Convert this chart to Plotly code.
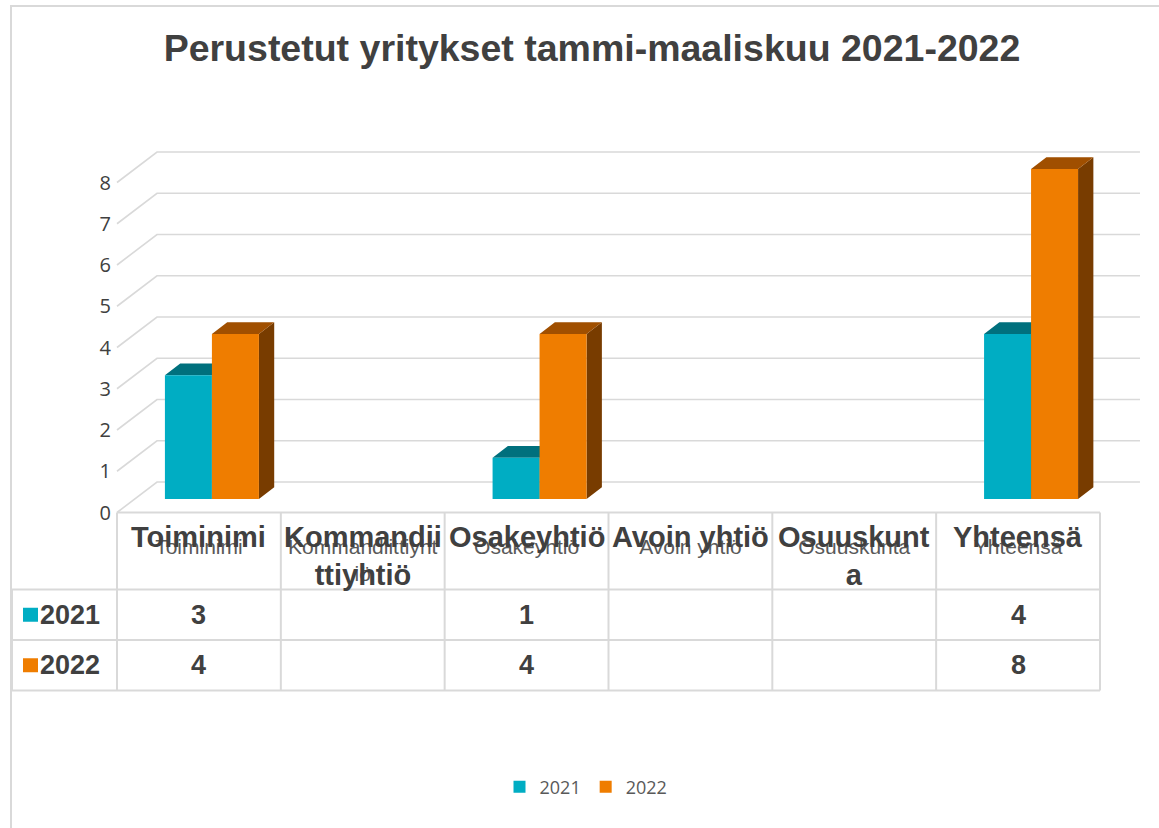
import plotly.graph_objects as go

# ---------------- data ----------------
categories = ["Toiminimi", "Kommandiittiyhtiö", "Osakeyhtiö", "Avoin yhtiö", "Osuuskunta", "Yhteensä"]
header_labels = ["Toiminimi", "Kommandii<br>ttiyhtiö", "Osakeyhtiö", "Avoin yhtiö", "Osuuskunt<br>a", "Yhteensä"]
axis_labels = ["Toiminimi", "Kommandiittiyht<br>iö", "Osakeyhtiö", "Avoin yhtiö", "Osuuskunta", "Yhteensä"]
series_names = ["2021", "2022"]
values_2021 = [3, None, 1, None, None, 4]
values_2022 = [4, None, 4, None, None, 8]
y_ticks = [0, 1, 2, 3, 4, 5, 6, 7, 8]
title_text = "Perustetut yritykset tammi-maaliskuu 2021-2022"

# ---------------- styles ----------------
front_colors = ["#00ADC3", "#EF7D00"]
top_colors = ["#00707D", "#A04F00"]
side_colors = ["#00525C", "#783C00"]
grid_color = "#D9D9D9"
text_dark = "#404040"
text_mid = "#595959"

W, H = 1159, 828
CAT_PX = 163.83       # pixels per category
UNIT_PX = 41.25       # pixels per value unit
FLOOR_LEFT_PX = 117   # left edge of front floor
ZERO_PX = 512.5       # y pixel of value 0 on the front plane


def ux(px):
    return px / CAT_PX


def uy(px):
    return px / UNIT_PX


def px2x(px):
    return -0.5 + (px - FLOOR_LEFT_PX) / CAT_PX


def px2y(py):
    return (ZERO_PX - py) / UNIT_PX


x_range = [px2x(0), px2x(W)]
y_range = [px2y(H), px2y(0)]

n = len(categories)
left_edge, right_edge = -0.5, n - 0.5
WALL_DX, WALL_DY = ux(40), uy(30.5)
BAR_W = ux(47)
BAR_SHIFT = ux(13)
BAR_BASE = uy(13.5)
DEP_X, DEP_Y = ux(15.3), uy(11.7)

fig = go.Figure()

# gridlines (side wall + back wall)
gx, gy = [], []
for v in y_ticks:
    gx += [left_edge, left_edge + WALL_DX, right_edge + WALL_DX, None]
    gy += [v, v + WALL_DY, v + WALL_DY, None]
fig.add_trace(go.Scatter(x=gx, y=gy, mode="lines", line=dict(color=grid_color, width=1.6),
                         hoverinfo="skip", showlegend=False))

# 3D faces of bars
all_values = [values_2021, values_2022]
for s, vals in enumerate(all_values):
    tx, ty, sx, sy = [], [], [], []
    for i, v in enumerate(vals):
        if v is None:
            continue
        l = i + BAR_SHIFT - BAR_W + s * BAR_W
        r = l + BAR_W
        b = BAR_BASE
        t = BAR_BASE + v
        tx += [l, l + DEP_X, r + DEP_X, r, l, None]
        ty += [t, t + DEP_Y, t + DEP_Y, t, t, None]
        sx += [r, r, r + DEP_X, r + DEP_X, r, None]
        sy += [b, t, t + DEP_Y, b + DEP_Y, b, None]
    fig.add_trace(go.Scatter(x=sx, y=sy, mode="lines", fill="toself", fillcolor=side_colors[s],
                             line=dict(width=0, color=side_colors[s]), hoverinfo="skip", showlegend=False))
    fig.add_trace(go.Scatter(x=tx, y=ty, mode="lines", fill="toself", fillcolor=top_colors[s],
                             line=dict(width=0, color=top_colors[s]), hoverinfo="skip", showlegend=False))

# front faces of bars (overlay axes so they sit above the depth faces)
for s, vals in enumerate(all_values):
    fig.add_trace(go.Bar(
        x=[i + BAR_SHIFT - BAR_W / 2 + s * BAR_W for i in range(n)],
        y=vals, base=BAR_BASE, width=BAR_W, name=series_names[s],
        marker=dict(color=front_colors[s], line=dict(width=0)),
        xaxis="x2", yaxis="y2",
    ))

# ---------------- data table ----------------
HEADER_H = uy(77)
ROW_H = uy(50.5)
table_left = px2x(12)
y_hdr_bottom = -HEADER_H
row_bottoms = [y_hdr_bottom - ROW_H, y_hdr_bottom - 2 * ROW_H]
y_bottom = row_bottoms[-1]

shapes = []
line_style = dict(color=grid_color, width=2)
shapes.append(dict(type="line", xref="x", yref="y", x0=left_edge, x1=right_edge, y0=0, y1=0, line=line_style))
for yy in [y_hdr_bottom] + row_bottoms:
    shapes.append(dict(type="line", xref="x", yref="y", x0=table_left, x1=right_edge, y0=yy, y1=yy, line=line_style))
for k in range(n + 1):
    xx = left_edge + k
    shapes.append(dict(type="line", xref="x", yref="y", x0=xx, x1=xx, y0=0, y1=y_bottom, line=line_style))
shapes.append(dict(type="line", xref="x", yref="y", x0=table_left, x1=table_left, y0=y_hdr_bottom, y1=y_bottom,
                   line=line_style))

# chart area border
shapes.append(dict(type="rect", xref="paper", yref="paper", x0=11 / W, x1=1.02, y0=-0.02, y1=1 - 6 / H,
                   line=dict(color=grid_color, width=2), fillcolor="rgba(0,0,0,0)"))

annotations = []
bold_font = dict(family="Liberation Sans, Arial, sans-serif", size=27, color=text_dark)
header_font = dict(family="Liberation Sans, Arial, sans-serif", size=29, color=text_dark)
for i, lab in enumerate(header_labels):
    annotations.append(dict(x=i, y=px2y(519), xref="x", yref="y", yanchor="top", text=f"<b>{lab}</b>",
                            showarrow=False, font=header_font))

for s, vals in enumerate(all_values):
    yc = (y_hdr_bottom - s * ROW_H) - ROW_H / 2
    for i, v in enumerate(vals):
        if v is None:
            continue
        annotations.append(dict(x=i, y=yc, xref="x", yref="y", text=f"<b>{v}</b>", showarrow=False,
                                font=bold_font))
    annotations.append(dict(x=px2x(38), y=yc, xref="x", yref="y", xanchor="left", text=f"<b>{series_names[s]}</b>",
                            showarrow=False, font=bold_font))
    shapes.append(dict(type="rect", xref="x", yref="y", x0=px2x(23), x1=px2x(38),
                       y0=yc - uy(7), y1=yc + uy(7), line=dict(width=0), fillcolor=front_colors[s]))

fig.update_layout(
    width=W, height=H,
    margin=dict(l=0, r=0, t=0, b=0),
    paper_bgcolor="white", plot_bgcolor="white",
    barmode="overlay",
    title=dict(text=f"<b>{title_text}</b>", x=592 / W, xanchor="center", y=1 - 48 / H, yanchor="middle",
               font=dict(family="Liberation Sans, Arial, sans-serif", size=37.5, color=text_dark)),
    xaxis=dict(range=x_range, domain=[0, 1], anchor="free", position=1 - 532 / H,
               tickmode="array", tickvals=list(range(n)), ticktext=axis_labels,
               tickfont=dict(family="Liberation Sans, Arial, sans-serif", size=21, color=text_mid),
               showgrid=False, zeroline=False, showline=False, ticks="", fixedrange=True),
    yaxis=dict(range=y_range, domain=[0, 1], anchor="free", position=111 / W,
               tickmode="array", tickvals=y_ticks,
               tickfont=dict(family="Open Sans, sans-serif", size=20, color=text_dark),
               showgrid=False, zeroline=False, showline=False, ticks="", fixedrange=True),
    xaxis2=dict(range=x_range, overlaying="x", anchor="y2", visible=False, fixedrange=True),
    yaxis2=dict(range=y_range, overlaying="y", anchor="x2", visible=False, fixedrange=True),
    legend=dict(orientation="h", x=586 / W, xanchor="center", y=1 - 787 / H, yanchor="middle",
                font=dict(family="Open Sans, sans-serif", size=18, color=text_mid),
                bgcolor="rgba(0,0,0,0)"),
    shapes=shapes,
    annotations=annotations,
)

fig.write_html(
    "out.html",
    config={"displayModeBar": False},
    post_script="document.body.style.margin='0';document.body.style.overflow='hidden';",
)
